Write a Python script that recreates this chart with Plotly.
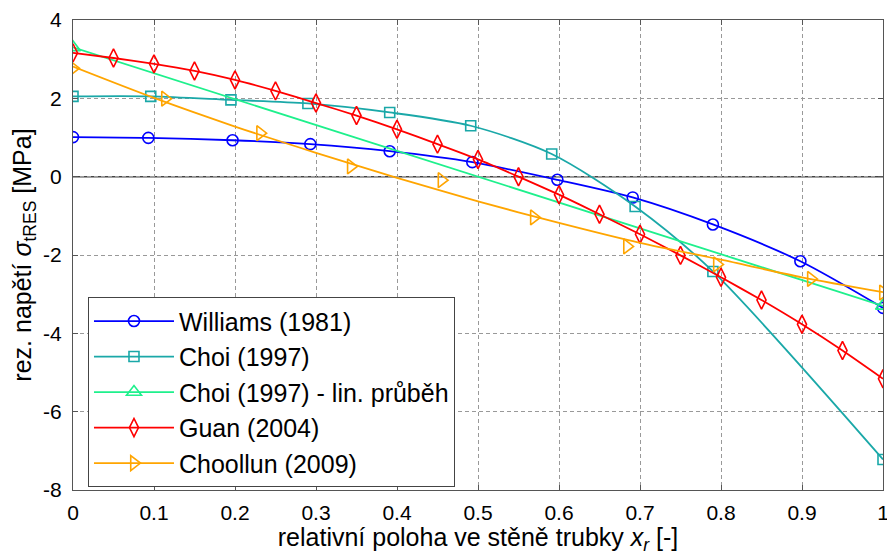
import plotly.graph_objects as go

# ---- data ----
williams_x = [0.0, 0.093, 0.197, 0.293, 0.391, 0.493, 0.598, 0.691, 0.790, 0.898, 1.0]
williams_y = [1.01, 0.99, 0.93, 0.83, 0.65, 0.37, -0.08, -0.53, -1.22, -2.16, -3.35]

choi_x = [0.0, 0.096, 0.195, 0.290, 0.391, 0.491, 0.591, 0.694, 0.790, 1.0]
choi_y = [2.05, 2.05, 1.96, 1.87, 1.64, 1.30, 0.58, -0.76, -2.42, -7.22]

choi_lin_x = [0.0, 1.0]
choi_lin_y = [3.3, -3.3]

guan_x = [0.0, 0.05, 0.10, 0.15, 0.20, 0.25, 0.30, 0.35, 0.40, 0.45, 0.50,
          0.55, 0.60, 0.65, 0.70, 0.75, 0.80, 0.85, 0.90, 0.95, 1.0]
guan_y = [3.16, 3.03, 2.88, 2.70, 2.47, 2.19, 1.88, 1.56, 1.21, 0.83, 0.44,
          0.0, -0.46, -0.96, -1.47, -2.01, -2.57, -3.15, -3.77, -4.44, -5.16]

choollun_x = [0.0, 0.1136, 0.231, 0.343, 0.455, 0.569, 0.684, 0.795, 0.911, 1.0]
choollun_y = [2.77, 1.99, 1.11, 0.26, -0.09, -1.04, -1.78, -2.24, -2.61, -2.96]
# fitted curve drawn through the Choollun data
choollun_fit_x = [0.0, 0.1, 0.2, 0.3, 0.4, 0.5, 0.6, 0.7, 0.8, 0.9, 1.0]
choollun_fit_y = [2.81, 2.01, 1.28, 0.61, -0.03, -0.63, -1.18, -1.69, -2.12, -2.57, -2.95]

series_names = ["Williams (1981)", "Choi (1997)", "Choi (1997) - lin. průběh",
                "Guan (2004)", "Choollun (2009)"]

x_ticks = [0, 0.1, 0.2, 0.3, 0.4, 0.5, 0.6, 0.7, 0.8, 0.9, 1]
x_tick_labels = ["0", "0.1", "0.2", "0.3", "0.4", "0.5", "0.6", "0.7", "0.8", "0.9", "1"]
y_ticks = [-8, -6, -4, -2, 0, 2, 4]
y_tick_labels = ["-8", "-6", "-4", "-2", "0", "2", "4"]

# ---- styles ----
C_BLUE = "#0000FF"
C_TEAL = "#1AA8A8"
C_GREEN = "#1EF08C"
C_RED = "#FF0000"
C_ORANGE = "#FFA500"
LW = 1.8
FONT = "Arial, Liberation Sans, sans-serif"

fig = go.Figure()

def add(x, y, name, color, symbol, size, smooth=0.8):
    fig.add_trace(go.Scatter(
        x=x, y=y, name=name, mode="lines+markers",
        line=dict(color=color, width=LW, shape="spline", smoothing=smooth),
        marker=dict(symbol=symbol, size=size, color=color,
                    line=dict(color=color, width=1.6)),
    ))

add(williams_x, williams_y, series_names[0], C_BLUE, "circle-open", 11)
add(choi_x, choi_y, series_names[1], C_TEAL, "square-open", 10)
add(choi_lin_x, choi_lin_y, series_names[2], C_GREEN, "triangle-up-open", 13)
add(guan_x, guan_y, series_names[3], C_RED, "diamond-tall-open", 13, smooth=0.5)

# Choollun: fitted line + data markers, with a legend-only entry
fig.add_trace(go.Scatter(
    x=choollun_fit_x, y=choollun_fit_y, mode="lines", showlegend=False,
    line=dict(color=C_ORANGE, width=LW, shape="spline", smoothing=0.8),
    hoverinfo="skip"))
fig.add_trace(go.Scatter(
    x=choollun_x, y=choollun_y, mode="markers", showlegend=False,
    marker=dict(symbol="triangle-right-open", size=13, color=C_ORANGE,
                line=dict(color=C_ORANGE, width=1.6))))
fig.add_trace(go.Scatter(
    x=[None], y=[None], name=series_names[4], mode="lines+markers",
    line=dict(color=C_ORANGE, width=LW),
    marker=dict(symbol="triangle-right-open", size=13, color=C_ORANGE,
                line=dict(color=C_ORANGE, width=1.6))))

axis_common = dict(
    showline=True, linecolor="#555555", linewidth=1, mirror="ticks",
    ticks="inside", ticklen=5, tickcolor="#555555", tickwidth=1,
    showgrid=True, gridcolor="#999999", gridwidth=1, griddash="4px,3px",
    tickfont=dict(family=FONT, size=21, color="#000000"),
    zeroline=False, automargin=False, ticklabeloverflow="allow",
)

fig.update_xaxes(
    range=[0, 1], tickvals=x_ticks, ticktext=x_tick_labels,
    title=dict(text="relativní poloha ve stěně trubky <i>x<sub>r</sub></i> [-]",
               font=dict(family=FONT, size=25, color="#000000"), standoff=8),
    ticklabelstandoff=4,
    **axis_common)
fig.update_yaxes(
    range=[-8, 4], tickvals=y_ticks, ticktext=y_tick_labels,
    title=dict(text="rez. napětí <i>σ</i><sub>tRES</sub> [MPa]",
               font=dict(family=FONT, size=25, color="#000000"), standoff=4),
    ticklabelstandoff=6,
    **axis_common)

# solid zero line at y = 0
fig.add_hline(y=0, line=dict(color="#444444", width=1.5), layer="below")

fig.update_layout(
    width=887, height=555,
    margin=dict(l=73, r=4, t=20, b=65),
    plot_bgcolor="white", paper_bgcolor="white",
    font=dict(family=FONT, color="#000000"),
    legend=dict(
        x=0.0185, y=0.41, xanchor="left", yanchor="top",
        bgcolor="white", bordercolor="#444444", borderwidth=1,
        font=dict(family=FONT, size=25, color="#000000"),
        itemwidth=80, tracegroupgap=0,
    ),
    showlegend=True,
)

fig.write_html("out.html",
               config={"displayModeBar": False},
               post_script="document.body.style.margin='0';document.body.style.overflow='hidden';")
